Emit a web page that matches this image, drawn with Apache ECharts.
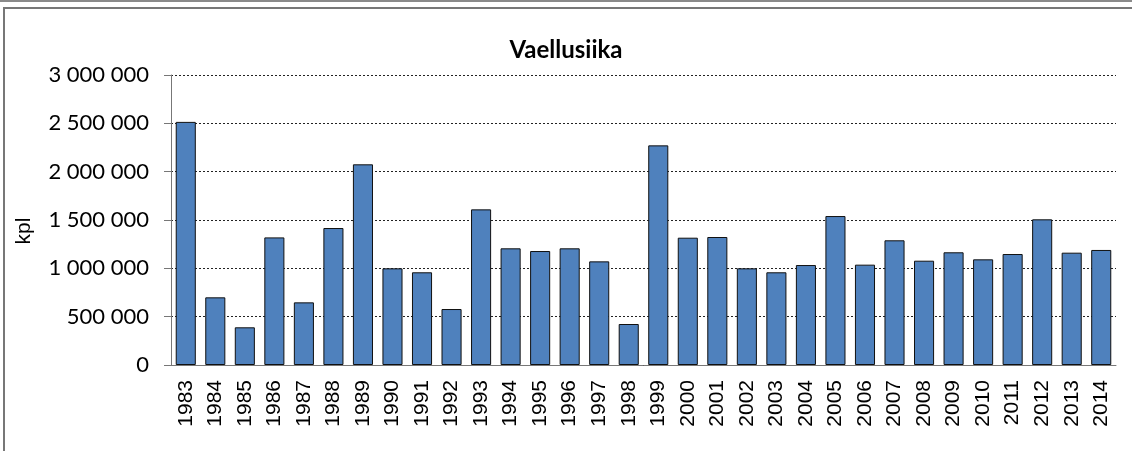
<!DOCTYPE html>
<html>
<head>
<meta charset="utf-8">
<script src="https://cdn.jsdelivr.net/npm/echarts@6/dist/echarts.min.js"></script>
<style>
  html, body { margin: 0; padding: 0; background: #fff; overflow: hidden; }
  #chart { width: 1132px; height: 451px; }
</style>
</head>
<body>
<div id="chart"></div>
<script>
// vuodet ja istutusmäärät (kpl)
const years = ['1983', '1984', '1985', '1986', '1987', '1988', '1989', '1990', '1991', '1992',
  '1993', '1994', '1995', '1996', '1997', '1998', '1999', '2000', '2001', '2002',
  '2003', '2004', '2005', '2006', '2007', '2008', '2009', '2010', '2011', '2012',
  '2013', '2014']
const counts = [2515000, 700000, 390000, 1320000, 648000, 1417000, 2076000, 1000000, 959000, 579000,
  1610000, 1207000, 1179000, 1207000, 1072000, 424000, 2272000, 1317000, 1324000, 1000000,
  959000, 1034000, 1541000, 1038000, 1290000, 1079000, 1166000, 1093000, 1148000, 1507000,
  1162000, 1190000]
const yMax = 3000000
const yStep = 500000

// tuhaterotin välilyönnillä
function fmt(v) {
  return String(v).replace(/\B(?=(\d{3})+(?!\d))/g, ' ')
}

const chart = echarts.init(document.getElementById('chart'))
chart.setOption({
  animation: false,
  title: {
    text: 'Vaellusiika',
    left: 'center',
    top: 33,
    textStyle: { fontFamily: 'Lato', fontWeight: 'bold', fontSize: 24, color: '#000' }
  },
  graphic: [
    // kehys
    { type: 'line', shape: { x1: 0, y1: 1, x2: 1132, y2: 1 }, style: { stroke: '#8a8a8a', lineWidth: 2 } },
    { type: 'line', shape: { x1: 3, y1: 8, x2: 1132, y2: 8 }, style: { stroke: '#777', lineWidth: 2 } },
    { type: 'line', shape: { x1: 4, y1: 7, x2: 4, y2: 451 }, style: { stroke: '#777', lineWidth: 2 } },
    {
      type: 'text',
      x: 24,
      y: 231,
      rotation: Math.PI / 2,
      style: {
        text: 'kpl',
        fontFamily: 'Liberation Sans',
        fontSize: 21,
        fill: '#000',
        align: 'center',
        verticalAlign: 'middle'
      }
    }
  ],
  grid: { left: 171, right: 16, top: 75, bottom: 86 },
  xAxis: {
    type: 'category',
    data: years,
    axisLine: { lineStyle: { color: '#777', width: 1 } },
    axisTick: { alignWithLabel: false, length: 6, lineStyle: { color: '#777' } },
    axisLabel: {
      rotate: 90,
      margin: 15,
      fontFamily: 'Liberation Sans',
      fontSize: 21,
      color: '#000'
    }
  },
  yAxis: {
    type: 'value',
    min: 0,
    max: yMax,
    interval: yStep,
    axisLine: { show: true, lineStyle: { color: '#777' } },
    axisTick: { show: true, length: 7, lineStyle: { color: '#777' } },
    axisLabel: {
      margin: 22,
      fontFamily: 'Lato',
      fontSize: 22,
      color: '#000',
      formatter: fmt
    },
    splitLine: { lineStyle: { color: '#222', type: [2, 2], width: 1 } }
  },
  series: [{
    type: 'bar',
    data: counts,
    barCategoryGap: '32%',
    itemStyle: { color: '#4f81bd', borderColor: '#111', borderWidth: 1 }
  }]
})
</script>
</body>
</html>
